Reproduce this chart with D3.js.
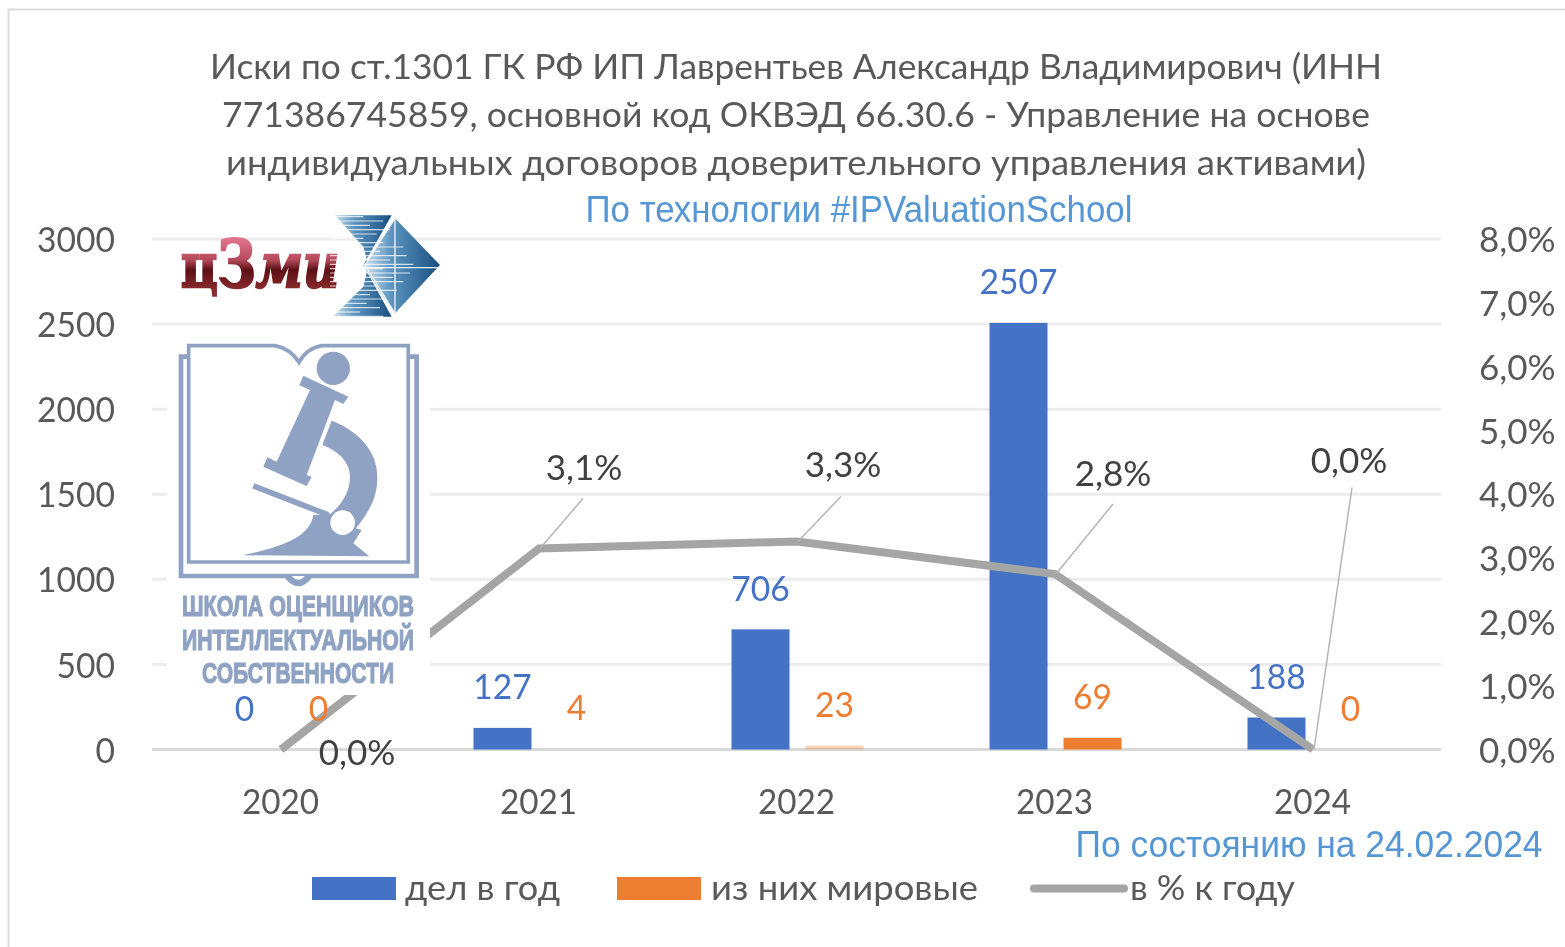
<!DOCTYPE html>
<html lang="ru"><head><meta charset="utf-8">
<script src="https://cdn.jsdelivr.net/npm/d3@7"></script>
<style>
html,body{margin:0;padding:0;background:#fff;overflow:hidden}
svg{display:block;filter:blur(0.6px)}
text{font-family:"Lato","Open Sans","Noto Sans",sans-serif}
</style></head><body><svg id="c" width="1565" height="947"></svg>
<script>
const years=["2020","2021","2022","2023","2024"];
const cases=[0,127,706,2507,188];
const settled=[0,4,23,69,0];
const percent=[0,3.15,3.26,2.75,0];
const percentLabels=["0,0%","3,1%","3,3%","2,8%","0,0%"];
const leftTicks=[0,500,1000,1500,2000,2500,3000];
const rightTicks=[0,1,2,3,4,5,6,7,8];
const titleLines=["Иски по ст.1301 ГК РФ ИП Лаврентьев Александр Владимирович (ИНН","771386745859, основной код ОКВЭД 66.30.6 - Управление на основе","индивидуальных договоров доверительного управления активами)"];
const seriesNames=["дел в год","из них мировые","в % к году"];
const settledOpacity=[1,0,0.35,1,1];
const BLUE="#4472c4",ORANGE="#ed7d31",GREY="#a5a5a5",TXT="#595959",NOTE="#5596d4";

const svg=d3.select("#c");
const y=d3.scaleLinear().domain([0,3000]).range([749.5,239]);
const yR=d3.scaleLinear().domain([0,8]).range([749.5,239]);
const x=d3.scalePoint().domain(years).range([281,1313]);
const fit=(sel,w)=>sel.attr("textLength",w).attr("lengthAdjust","spacingAndGlyphs");
const condense=(sel,k)=>sel.each(function(){fit(d3.select(this),this.getComputedTextLength()*k)});

// frame
svg.append("path").attr("d","M8.5,947V9.5H1565").attr("fill","none").attr("stroke","#dcdcdc").attr("stroke-width",2);

// gridlines
svg.append("g").selectAll("line").data(leftTicks).join("line")
 .attr("x1",152).attr("x2",1441).attr("y1",d=>y(d)).attr("y2",d=>y(d))
 .attr("stroke",d=>d===0?"#d9d9d9":"#ececec").attr("stroke-width",3);

// axes
const axL=svg.append("g").call(d3.axisLeft(y).tickValues(leftTicks).tickFormat(d=>d).tickSize(0)).attr("transform","translate(115,0)");
axL.select(".domain").remove();
axL.selectAll("text").attr("x",0).attr("dy","0.36em").attr("font-size",35).attr("fill",TXT).call(condense,0.96);
const axR=svg.append("g").call(d3.axisRight(yR).tickValues(rightTicks).tickFormat(d=>d.toFixed(1).replace(".",",")+"%").tickSize(0)).attr("transform","translate(1479,0)");
axR.select(".domain").remove();
axR.selectAll("text").attr("x",0).attr("dy","0.36em").attr("font-size",35).attr("fill",TXT);
const axX=svg.append("g").call(d3.axisBottom(x).tickSize(0)).attr("transform","translate(-1,790)");
axX.select(".domain").remove();
axX.selectAll("text").attr("y",0).attr("dy",24).attr("font-size",35).attr("fill",TXT).call(condense,0.95);

// bars
const barW=58, blueDx=-36.5, orangeDx=37.5;
svg.append("g").selectAll("rect").data(years).join("rect")
 .attr("x",(d,i)=>x(d)+blueDx-barW/2).attr("width",barW)
 .attr("y",(d,i)=>y(cases[i])).attr("height",(d,i)=>y(0)-y(cases[i])).attr("fill",BLUE);
svg.append("g").selectAll("rect").data(years).join("rect")
 .attr("x",(d,i)=>x(d)+orangeDx-barW/2).attr("width",barW)
 .attr("y",(d,i)=>y(settled[i])).attr("height",(d,i)=>y(0)-y(settled[i])).attr("fill",ORANGE)
 .attr("opacity",(d,i)=>settledOpacity[i]);

// percent line
const line=d3.line().x((d,i)=>x(years[i])).y(d=>yR(d));
svg.append("path").datum(percent).attr("d",line).attr("fill","none").attr("stroke",GREY).attr("stroke-width",8);

// leader lines and labels
const leaderEnd=[null,[44,-50],[44,-45],[58,-70],[39,-262]];
const labelOffset=[[76,3],[45,-81],[46,-77],[58,-101],[36,-289]];
svg.append("g").selectAll("line").data(leaderEnd.filter(Boolean)).join("line")
 .attr("x1",(d,i)=>x(years[i+1])+1).attr("y1",(d,i)=>yR(percent[i+1]))
 .attr("x2",(d,i)=>x(years[i+1])+d[0]).attr("y2",(d,i)=>yR(percent[i+1])+d[1])
 .attr("stroke","#b5b5b5").attr("stroke-width",1.5);

// white logo backing
svg.append("rect").attr("x",167).attr("y",335).attr("width",263).attr("height",360).attr("fill","#fff");

svg.append("g").selectAll("text").data(percentLabels).join("text")
 .attr("x",(d,i)=>x(years[i])+labelOffset[i][0]).attr("y",(d,i)=>yR(percent[i])+labelOffset[i][1])
 .attr("dy","0.36em").attr("text-anchor","middle").attr("font-size",35).attr("fill","#404040").text(d=>d);
svg.append("g").selectAll("text").data(cases).join("text")
 .attr("x",(d,i)=>x(years[i])+blueDx).attr("y",d=>y(d)-41).attr("dy","0.36em")
 .attr("text-anchor","middle").attr("font-size",35).attr("fill",BLUE).text(d=>d).call(condense,0.96);
svg.append("g").selectAll("text").data(settled).join("text")
 .attr("x",(d,i)=>x(years[i])+orangeDx).attr("y",d=>y(d)-41).attr("dy","0.36em")
 .attr("text-anchor","middle").attr("font-size",35).attr("fill",ORANGE).text(d=>d).call(condense,0.96);

// title
const titleW=[1172,1148,1140], titleX=796;
svg.append("g").selectAll("text").data(titleLines).join("text")
 .attr("x",titleX).attr("y",(d,i)=>79+i*48).attr("text-anchor","middle").attr("font-size",35).attr("fill",TXT)
 .text(d=>d).each(function(d,i){fit(d3.select(this),titleW[i])});
fit(svg.append("text").attr("x",859).attr("y",222).attr("text-anchor","middle").attr("font-size",36)
 .attr("fill",NOTE).style("font-family","'Liberation Sans'").text("По технологии #IPValuationSchool"),547);
fit(svg.append("text").attr("x",1309).attr("y",857).attr("text-anchor","middle").attr("font-size",36)
 .attr("fill",NOTE).style("font-family","'Liberation Sans'").text("По состоянию на 24.02.2024"),467);

// legend
svg.append("rect").attr("x",312).attr("y",877).attr("width",84).attr("height",23).attr("fill",BLUE);
svg.append("rect").attr("x",617).attr("y",877).attr("width",84).attr("height",23).attr("fill",ORANGE);
svg.append("line").attr("x1",1034).attr("x2",1124).attr("y1",888.5).attr("y2",888.5).attr("stroke",GREY).attr("stroke-width",8).attr("stroke-linecap","round");
const legX=[405,711,1130],legW=[155,267,165];
svg.append("g").selectAll("text").data(seriesNames).join("text")
 .attr("x",(d,i)=>legX[i]).attr("y",900).attr("font-size",35).attr("fill",TXT).text(d=>d)
 .each(function(d,i){fit(d3.select(this),legW[i])});

// ЦЗМИ logo, drawn in the 3x crop's coordinates
const defs=svg.append("defs");
const g1=defs.append("linearGradient").attr("id","red").attr("gradientUnits","userSpaceOnUse").attr("x1",0).attr("x2",0).attr("y1",240).attr("y2",290);
g1.append("stop").attr("offset",0).attr("stop-color","#e0728c");
g1.append("stop").attr("offset",.4).attr("stop-color","#b34a5a");
g1.append("stop").attr("offset",.6).attr("stop-color","#5c0f14");
g1.append("stop").attr("offset",1).attr("stop-color","#8a2c2e");
const g2=defs.append("linearGradient").attr("id","blueFade").attr("x1",0).attr("x2",1).attr("y1",0).attr("y2",0);
g2.append("stop").attr("offset",0).attr("stop-color","#d5e5f0");
g2.append("stop").attr("offset",.35).attr("stop-color","#5f97c2");
g2.append("stop").attr("offset",1).attr("stop-color","#174e80");
const t=svg.append("text").attr("x",181).attr("y",287).attr("fill","url(#red)").attr("stroke","url(#red)").attr("stroke-width",2.5)
 .style("font-family","'DejaVu Serif'").style("font-weight",700);
t.append("tspan").attr("font-size",62).text("ц");
t.append("tspan").attr("font-size",66).text("З");
t.append("tspan").attr("font-size",62).attr("font-style","italic").text("ми");
fit(t,158);

const logo=svg.append("g").attr("transform","translate(150,200) scale(0.3333)");
logo.append("path").attr("d","M555,46H725L640,195L725,350H548L640,260L655,195L640,140Z").attr("fill","url(#blueFade)");
logo.append("path").attr("d","M640,200L735,55L870,195L735,340Z").attr("fill","url(#blueFade)");
const stripeRows=d3.range(50,350,13);
const stripeEnd=[640,700,660,720,680,640,700,760,690,770,720,790,700,780,730,760,680,740,660,710,650,690,630,700];
logo.selectAll(".st").data(stripeRows).join("line")
 .attr("x1",540).attr("x2",(d,i)=>stripeEnd[i%stripeEnd.length])
 .attr("y1",d=>d).attr("y2",d=>d).attr("stroke","#fff").attr("stroke-width",3.5).attr("opacity",0.75);
logo.append("path").attr("d","M735,50V342M640,203H868M735,55L645,195L735,340").attr("fill","none").attr("stroke","#eef4f9").attr("stroke-width",4);

// school logo
const S="#8fa2c3";
const b=logo.append("g");
b.append("path").attr("d","M115,470H93V1128H800V470H778")
 .attr("fill","none").attr("stroke",S).attr("stroke-width",14);
b.append("path").attr("d","M116,1086V437H375Q420,445 447,487Q470,445 515,437H775V1086Z")
 .attr("fill","#fff").attr("stroke",S).attr("stroke-width",11);
b.append("path").attr("d","M400,1128Q445,1190 490,1128Z").attr("fill",S);
b.append("path").attr("d","M425,1128Q445,1150 465,1128Z").attr("fill","#fff");
b.append("circle").attr("cx",550).attr("cy",505).attr("r",50).attr("fill",S);
b.append("path").attr("d","M460,527L595,590L580,612L555,600L470,825L485,830L470,858L340,800L352,772L380,785L480,570L448,556Z").attr("fill",S);
b.append("path").attr("d","M545,662L517,735C570,755 600,790 600,830C600,880 570,920 540,942L490,945C480,1010 400,1040 278,1066L658,1069L610,1030L635,990L618,985C670,920 682,880 682,830C682,750 620,690 545,662Z").attr("fill",S);
b.append("path").attr("d","M310,858L535,945").attr("stroke",S).attr("stroke-width",17);
b.append("circle").attr("cx",578).attr("cy",968).attr("r",37).attr("fill","#fff");
const schoolLines=["ШКОЛА ОЦЕНЩИКОВ","ИНТЕЛЛЕКТУАЛЬНОЙ","СОБСТВЕННОСТИ"],schoolW=[232,232,192];
svg.append("g").selectAll("text").data(schoolLines).join("text")
 .attr("x",298).attr("y",(d,i)=>616+i*33.5).attr("text-anchor","middle").attr("font-size",29).attr("fill",S)
 .attr("stroke",S).attr("stroke-width",1.2)
 .style("font-family","'Liberation Sans'").style("font-weight",700).text(d=>d)
 .each(function(d,i){fit(d3.select(this),schoolW[i])});
</script></body></html>
